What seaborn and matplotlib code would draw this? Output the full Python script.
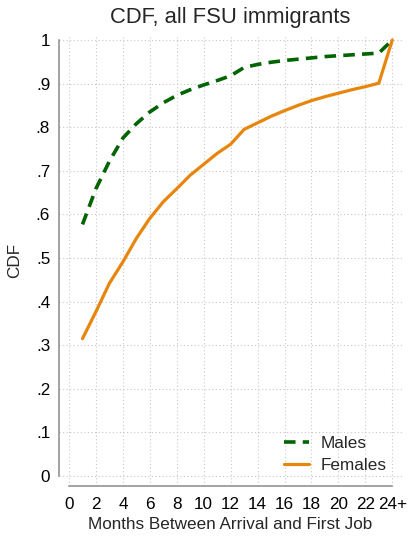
import matplotlib
matplotlib.use("Agg")
import matplotlib.pyplot as plt
import seaborn as sns
import pandas as pd

# Months since arrival (24 = "24 or more")
months = list(range(1, 25))
males = [0.577, 0.659, 0.722, 0.775, 0.808, 0.835, 0.856, 0.873, 0.886, 0.897,
         0.907, 0.918, 0.937, 0.944, 0.949, 0.953, 0.956, 0.959, 0.962, 0.964,
         0.966, 0.968, 0.970, 1.000]
females = [0.315, 0.377, 0.442, 0.491, 0.545, 0.591, 0.629, 0.659, 0.690, 0.715,
           0.740, 0.761, 0.795, 0.810, 0.825, 0.838, 0.850, 0.861, 0.870, 0.878,
           0.886, 0.893, 0.901, 1.000]

x_ticks = list(range(0, 25, 2))
x_ticklabels = [str(t) for t in range(0, 24, 2)] + ["24+"]
y_ticks = [i / 10 for i in range(11)]
y_ticklabels = ["0", ".1", ".2", ".3", ".4", ".5", ".6", ".7", ".8", ".9", "1"]

GREEN = "#006400"
ORANGE = "#e8850c"
AXIS_GRAY = "#8a8a8a"

sns.set_style("white")
plt.rcParams["font.family"] = ["Liberation Sans", "DejaVu Sans"]

df = pd.DataFrame({
    "month": months * 2,
    "cdf": males + females,
    "group": ["Males"] * len(months) + ["Females"] * len(months),
})

fig = plt.figure(figsize=(4.12, 5.36), dpi=100)
ax = fig.add_axes([0.1432, 0.0933, 0.8325, 0.8414])

sns.lineplot(data=df[df.group == "Males"], x="month", y="cdf", ax=ax,
             color=GREEN, linewidth=2.6, label="Males")
sns.lineplot(data=df[df.group == "Females"], x="month", y="cdf", ax=ax,
             color=ORANGE, linewidth=2.3, label="Females")
ax.lines[0].set_dashes((3.2, 2.0))
ax.lines[0].set_solid_capstyle("butt")

ax.set_xlim(-0.743, 24.72)
ax.set_ylim(-0.023, 1.0115)

ax.set_xticks(x_ticks)
ax.set_xticklabels(x_ticklabels)
ax.set_yticks(y_ticks)
ax.set_yticklabels(y_ticklabels)

ax.grid(True, color="#c8c8c8", linestyle=(0, (1, 2.2)), linewidth=0.8)
ax.set_axisbelow(True)

for side in ["top", "right"]:
    ax.spines[side].set_visible(False)
for side in ["left", "bottom"]:
    ax.spines[side].set_color(AXIS_GRAY)
    ax.spines[side].set_linewidth(1.1)
ax.spines["left"].set_bounds(0, 1)
ax.spines["bottom"].set_bounds(0, 24)

ax.tick_params(axis="both", direction="out", length=3.8, width=1.1,
               color=AXIS_GRAY, labelcolor="black", labelsize=12.3, pad=2.5)
ax.tick_params(axis="x", pad=4)

ax.set_xlabel("Months Between Arrival and First Job", fontsize=12.3, labelpad=4)
ax.set_ylabel("CDF", fontsize=12.3, labelpad=10)
ax.set_title("CDF, all FSU immigrants", fontsize=15.8, pad=9)

leg = ax.legend(loc="lower right", bbox_to_anchor=(1.0, -0.006), frameon=False,
                fontsize=12.3, handlelength=1.45, handletextpad=0.7,
                labelspacing=0.45)

fig.savefig("out.png", dpi=100)
